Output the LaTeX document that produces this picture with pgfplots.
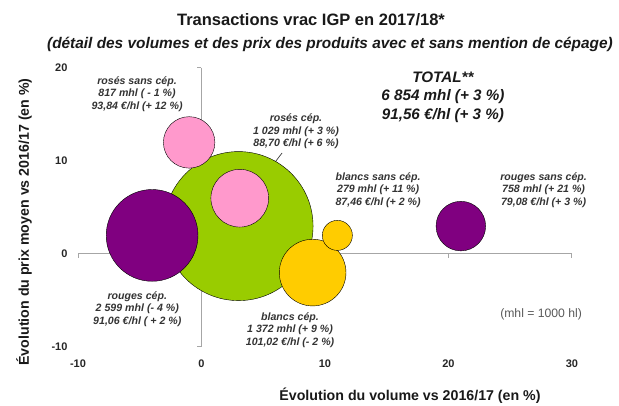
\documentclass[border=0pt]{standalone}
\usepackage{fontspec}
\setmainfont{Liberation Sans}
\usepackage{pgfplots}
\pgfplotsset{compat=1.18}
\definecolor{cgreen}{RGB}{153,204,0}
\definecolor{cpurple}{RGB}{128,0,128}
\definecolor{cpink}{RGB}{255,153,204}
\definecolor{cyellow}{RGB}{255,204,0}
\definecolor{caxis}{RGB}{166,166,166}
\definecolor{ctext}{RGB}{51,51,51}
\pgfplotsset{
  bubble/.style={scatter, only marks, mark=*,
    scatter/use mapped color={draw=none, fill=#1},
    visualization depends on={0.9*sqrt(\thisrow{v}) \as \rad},
    scatter/@pre marker code/.append style={/tikz/mark size=\rad}}
}
\tikzset{
  lbl/.style={align=center, text=ctext, font=\fontsize{10.6}{12.5}\selectfont\bfseries\itshape, inner sep=0pt}
}
\begin{document}
\begin{tikzpicture}
\useasboundingbox (0pt,0pt) rectangle (619pt,406pt);
\begin{axis}[
  at={(78pt,59pt)}, anchor=south west,
  scale only axis, width=494pt, height=279pt,
  xmin=-10, xmax=30, ymin=-10, ymax=20,
  xtick={-10,0,10,20,30}, ytick={-10,0,10,20},
  axis line style={draw=none}, major tick length=0pt,
  clip=false,
  /pgf/number format/assume math mode=true,
  ticklabel style={font=\fontsize{11}{13}\selectfont\bfseries, text=black!85},
  xticklabel style={yshift=-9pt},
  yticklabel style={xshift=-7pt},
]
% axis lines
\draw[caxis, line width=1pt] (axis cs:-10,0) -- (axis cs:30,0);
\draw[caxis, line width=1pt] (axis cs:0,-10) -- (axis cs:0,20);
\draw[caxis, line width=1pt] (axis cs:-10,0) -- ++(0pt,-4pt);
\draw[caxis, line width=1pt] (axis cs:0,0) -- ++(0pt,-4pt);
\draw[caxis, line width=1pt] (axis cs:10,0) -- ++(0pt,-4pt);
\draw[caxis, line width=1pt] (axis cs:20,0) -- ++(0pt,-4pt);
\draw[caxis, line width=1pt] (axis cs:30,0) -- ++(0pt,-4pt);
\draw[caxis, line width=1pt] (axis cs:0,-10) -- ++(-4pt,0pt);
\draw[caxis, line width=1pt] (axis cs:0,10) -- ++(-4pt,0pt);
\draw[caxis, line width=1pt] (axis cs:0,20) -- ++(-4pt,0pt);
% bubbles
\addplot[bubble=cgreen] table {
x y v
3 3 6854
};
\addplot[bubble=cpurple] table {
x y v
-4 2 2599
};
\addplot[bubble=cpink] table {
x y v
3.1 6 1029
};
\addplot[bubble=cpink] table {
x y v
-1 12 817
};
\addplot[bubble=cyellow] table {
x y v
9 -2 1372
};
\addplot[bubble=cyellow] table {
x y v
11 2 279
};
\addplot[bubble=cpurple] table {
x y v
21 3 758
};
% leader line
\draw[black!75, line width=0.7pt] (axis cs:6.52,10.86) -- (axis cs:4.0,6.45);
% labels
\node[lbl] at (axis cs:-5.22,17.2) {rosés sans cép.\\817 mhl ( - 1 \%)\\93,84 €/hl (+ 12 \%)};
\node[lbl] at (axis cs:7.65,13.2) {rosés cép.\\1 029 mhl (+ 3 \%)\\88,70 €/hl (+ 6 \%)};
\node[lbl, text=black!90, font=\fontsize{15.2}{18.5}\selectfont\bfseries\itshape] at (axis cs:19.55,16.9) {TOTAL**\\6 854 mhl (+ 3 \%)\\91,56 €/hl (+ 3 \%)};
\node[lbl] at (axis cs:14.3,6.9) {blancs sans cép.\\279 mhl (+ 11 \%)\\87,46 €/hl (+ 2 \%)};
\node[lbl] at (axis cs:27.7,6.9) {rouges sans cép.\\758 mhl (+ 21 \%)\\79,08 €/hl (+ 3 \%)};
\node[lbl] at (axis cs:-5.2,-5.9) {rouges cép.\\2 599 mhl (- 4 \%)\\91,06 €/hl ( + 2 \%)};
\node[lbl] at (axis cs:7.17,-8.17) {blancs cép.\\1 372 mhl (+ 9 \%)\\101,02 €/hl (- 2 \%)};
\node[inner sep=0pt, text=black!65, font=\fontsize{12.2}{14}\selectfont] at (axis cs:27.5,-6.45) {(mhl = 1000 hl)};
\end{axis}
\node[inner sep=0pt, text=black!90, font=\fontsize{16.5}{19}\selectfont\bfseries] at (311pt,386pt) {Transactions vrac IGP en 2017/18*};
\node[inner sep=0pt, text=black!90, font=\fontsize{15.4}{18}\selectfont\bfseries\itshape] at (330pt,362pt) {(détail des volumes et des prix des produits avec et sans mention de cépage)};
\node[inner sep=0pt, text=black!90, font=\fontsize{14.2}{17}\selectfont\bfseries] at (410pt,10pt) {Évolution du volume vs 2016/17 (en \%)};
\node[inner sep=0pt, text=black!90, font=\fontsize{14.2}{17}\selectfont\bfseries, rotate=90] at (24pt,184pt) {Évolution du prix moyen vs 2016/17 (en \%)};
\end{tikzpicture}
\end{document}
